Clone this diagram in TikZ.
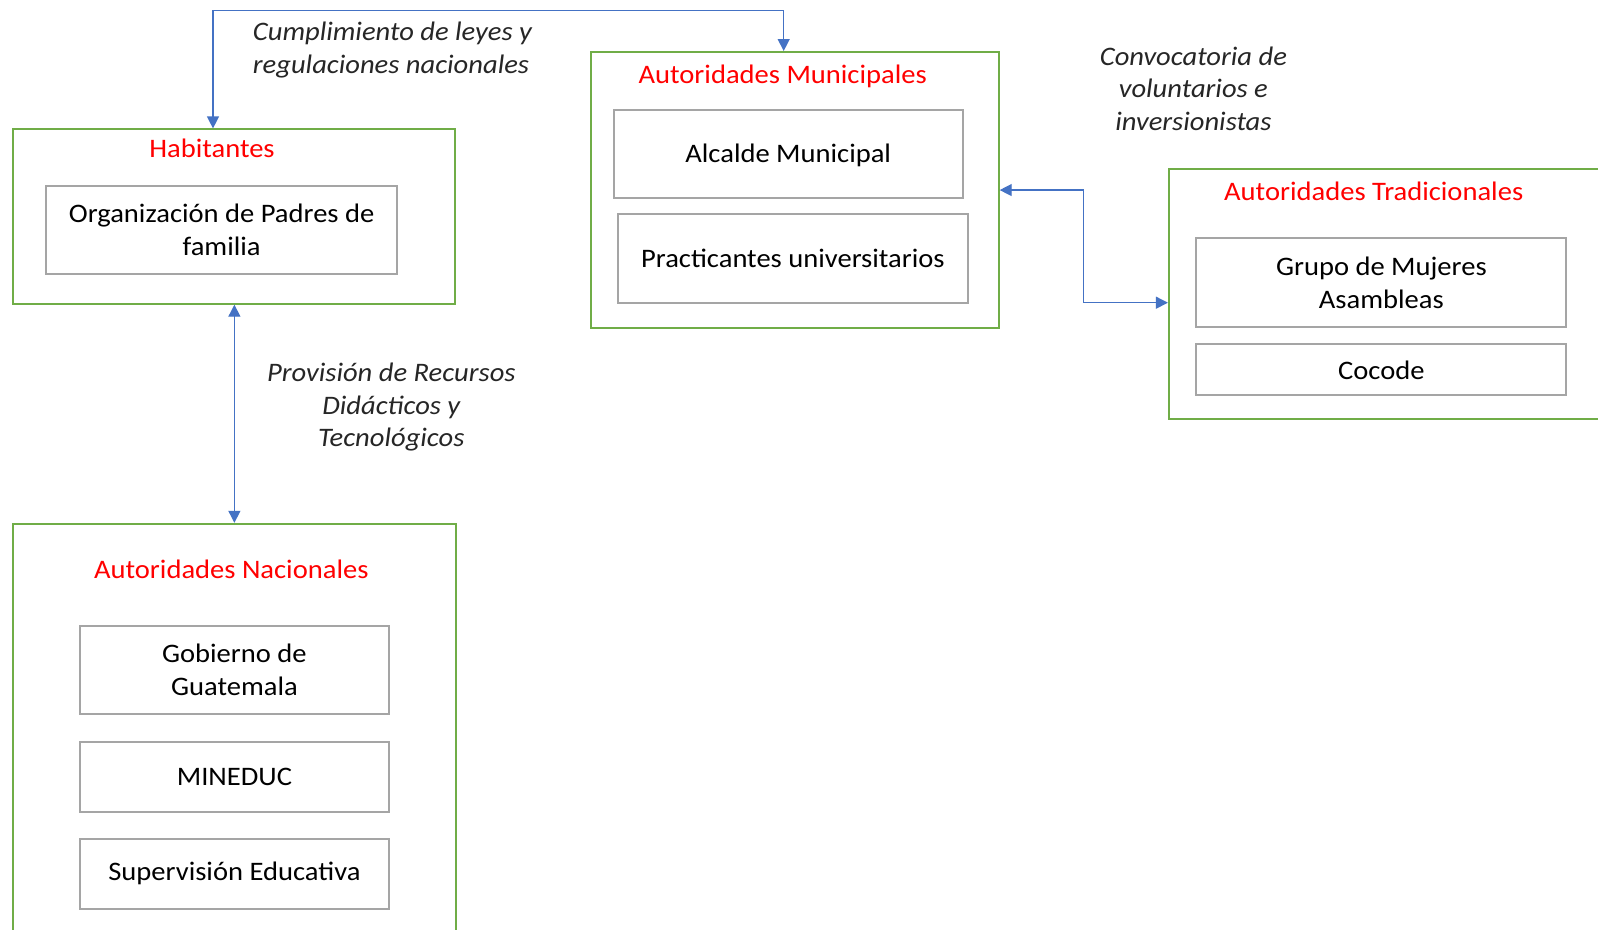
\documentclass[tikz,border=0pt]{standalone}
\usepackage{fontspec}
\setmainfont{Carlito}[FakeStretch=1.07]
\usetikzlibrary{arrows.meta,calc}
\definecolor{grn}{HTML}{70AD47}
\definecolor{gry}{HTML}{A5A5A5}
\definecolor{blu}{HTML}{4472C4}
\definecolor{rd}{HTML}{FF0000}
\newcommand{\txtfont}{\fontsize{26.7}{32.6}\selectfont}
\begin{document}
\begin{tikzpicture}[x=1pt,y=-1pt,
  outerbox/.style={draw=grn,line width=2pt,anchor=north west,inner sep=0pt},
  innerbox/.style={draw=gry,line width=2pt,anchor=north west,inner sep=0pt,align=center,font=\txtfont,text=black},
  titletxt/.style={text=rd,font=\txtfont,inner sep=0pt},
  lbl/.style={font=\txtfont\itshape,inner sep=0pt,text=black!85},
  conn/.style={draw=blu,line width=1.3pt},
  tips/.style={{Triangle[length=12pt,width=12pt]}-{Triangle[length=12pt,width=12pt]}}
]
\useasboundingbox (0,0) rectangle (1598,929);
\clip (0,0) rectangle (1598,929);
\fill[white] (0,0) rectangle (1598,929);

% Habitantes
\node[outerbox,minimum width=441.3pt,minimum height=174.3pt] (hab) at (12.2,128.4) {};
\node[titletxt] (habt) at (212,148.8) {Habitantes};
\node[innerbox,minimum width=351.6pt,minimum height=88.6pt] (org) at (44.8,184.5) {Organización de Padres de\\familia};

% Autoridades Nacionales
\node[outerbox,minimum width=442.3pt,minimum height=430pt] (nac) at (12.2,522.8) {};
\node[titletxt] (nact) at (231.3,569.7) {Autoridades Nacionales};
\node[innerbox,minimum width=309.8pt,minimum height=88.7pt] (gob) at (78.5,624.7) {Gobierno de\\Guatemala};
\node[innerbox,minimum width=309.8pt,minimum height=70.3pt] (min) at (78.5,740.9) {MINEDUC};
\node[innerbox,minimum width=309.8pt,minimum height=70.3pt] (sup) at (78.5,837.7) {Supervisión Educativa};

% Autoridades Municipales
\node[outerbox,minimum width=407.7pt,minimum height=276.1pt] (mun) at (590,51) {};
\node[titletxt] (munt) at (782.7,76.4) {Autoridades Municipales};
\node[innerbox,minimum width=349.5pt,minimum height=87.7pt,text height=21pt] (alc) at (612.5,109) {Alcalde Municipal};
\node[innerbox,minimum width=350.5pt,minimum height=88.7pt] (pra) at (616.6,213) {Practicantes universitarios};

% Autoridades Tradicionales
\node[outerbox,minimum width=460pt,minimum height=249.6pt] (tra) at (1167.9,168.2) {};
\node[titletxt] (trat) at (1373.7,191.6) {Autoridades Tradicionales};
\node[innerbox,minimum width=369.9pt,minimum height=88.7pt] (gru) at (1195.4,237.4) {Grupo de Mujeres\\Asambleas};
\node[innerbox,minimum width=369.9pt,minimum height=51pt] (coc) at (1195.4,343.4) {Cocode};

% Labels
\node[lbl,anchor=west,align=left] (l1) at (252.7,49.9) {Cumplimiento de leyes y\\regulaciones nacionales};
\node[lbl,align=center] (l2) at (391.3,407.1) {Provisión de Recursos\\Didácticos y\\Tecnológicos};
\node[lbl,align=center] (l3) at (1193.4,88.7) {Convocatoria de\\voluntarios e\\inversionistas};

% Connectors
\coordinate (habin) at ([xshift=200.8pt]hab.north west);
\coordinate (munin) at ([xshift=193.7pt]mun.north west);
\coordinate (toprow) at (0,10.5);
\draw[conn,tips] (habin) -- (habin |- toprow) -| (munin);

\coordinate (habout) at ([xshift=222.2pt]hab.south west);
\coordinate (nacin) at ([xshift=222.2pt]nac.north west);
\draw[conn,tips] (habout) -- (nacin);

\coordinate (train) at ([yshift=-134.5pt]tra.north west);
\coordinate (mid) at (1083.3,0);
\draw[conn,tips] (mun.east) -- (mid |- mun.east) |- (train);
\end{tikzpicture}
\end{document}
